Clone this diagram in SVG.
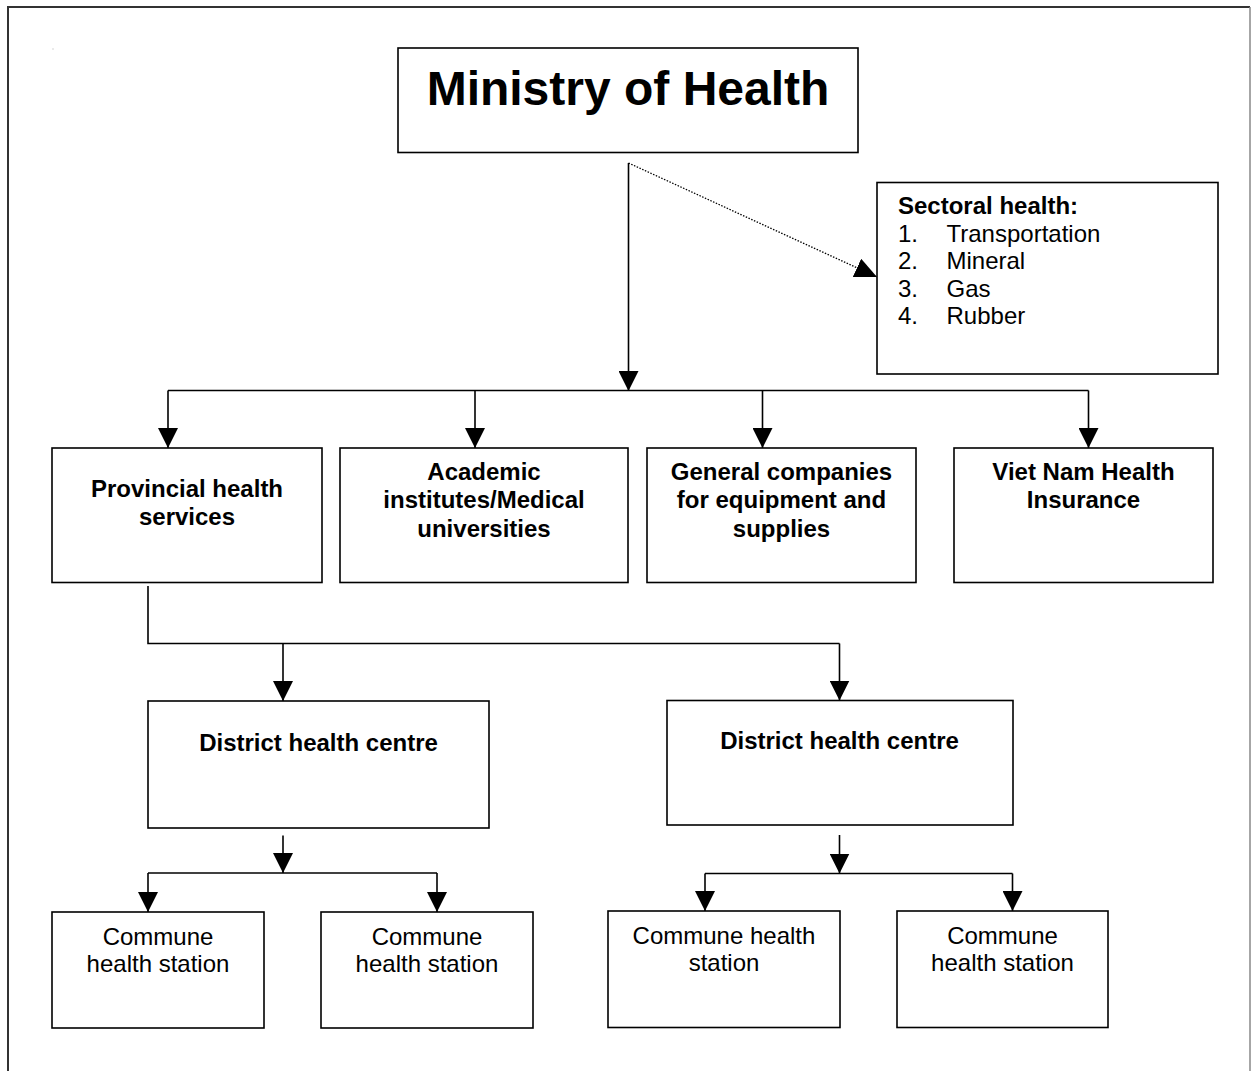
<svg xmlns="http://www.w3.org/2000/svg" width="1253" height="1071" viewBox="0 0 1253 1071">
<defs>
<style>
.box{fill:#fff;stroke:#000;stroke-width:1.6}
.b{font-family:"Liberation Sans",Arial,sans-serif;font-weight:bold;font-size:24px;text-anchor:middle;fill:#000}
.r{font-family:"Liberation Sans",Arial,sans-serif;font-size:24px;text-anchor:middle;fill:#000}
.l{font-family:"Liberation Sans",Arial,sans-serif;font-size:24px;fill:#000}
.conn{stroke:#000;stroke-width:1.6;fill:none}
.arr{marker-end:url(#ah)}
.dot{stroke:#000;stroke-width:1.3;fill:none;stroke-dasharray:1.5 1.5;marker-end:url(#ah2)}
</style>
<marker id="ah" markerUnits="userSpaceOnUse" viewBox="0 0 20 20" refX="20" refY="10" markerWidth="20" markerHeight="20" orient="auto">
<path d="M0,0 L20,10 L0,20 z" fill="#000"/>
</marker>
<marker id="ah2" markerUnits="userSpaceOnUse" viewBox="0 0 22 20" refX="22" refY="10" markerWidth="22" markerHeight="20" orient="auto">
<path d="M0,0 L22,10 L0,20 z" fill="#000"/>
</marker>
</defs>
<rect width="1253" height="1071" fill="#fff"/>
<g id="page-border">
<path d="M8,1075 V7 H1250" fill="none" stroke="#333" stroke-width="2"/>
<path d="M1250,7 V1075" fill="none" stroke="#888" stroke-width="1.5"/>
<rect x="52.5" y="48.5" width="1" height="1" fill="#aaa"/>
</g>
<g id="connectors">
<path class="conn arr" d="M628.5,163 V391"/>
<path class="dot" d="M628.5,163 L877,277"/>
<path class="conn" d="M168,390.5 H1088.5"/>
<path class="conn arr" d="M168,390.5 V448"/>
<path class="conn arr" d="M475,390.5 V448"/>
<path class="conn arr" d="M762.5,390.5 V448"/>
<path class="conn arr" d="M1088.5,390.5 V448"/>
<path class="conn" d="M148,586 V643.5 H839.5"/>
<path class="conn arr" d="M283,643.5 V701"/>
<path class="conn arr" d="M839.5,643.5 V700.5"/>
<path class="conn arr" d="M283,835.5 V873"/>
<path class="conn" d="M148,873 H437"/>
<path class="conn arr" d="M148,873 V912"/>
<path class="conn arr" d="M437,873 V912"/>
<path class="conn arr" d="M839.5,835 V873.5"/>
<path class="conn" d="M705,873.5 H1012.5"/>
<path class="conn arr" d="M705,873.5 V911"/>
<path class="conn arr" d="M1012.5,873.5 V911"/>
</g>
<g id="ministry">
<rect class="box" x="398" y="48" width="460" height="104.5"/>
<text class="b" x="628" y="105" style="font-size:48px">Ministry of Health</text>
</g>
<g id="sectoral">
<rect class="box" x="877" y="182.5" width="341" height="191.5"/>
<text class="b" x="898" y="214" style="text-anchor:start">Sectoral health:</text>
<text class="l" x="898" y="241.5">1.</text><text class="l" x="946.5" y="241.5">Transportation</text>
<text class="l" x="898" y="269">2.</text><text class="l" x="946.5" y="269">Mineral</text>
<text class="l" x="898" y="296.5">3.</text><text class="l" x="946.5" y="296.5">Gas</text>
<text class="l" x="898" y="324">4.</text><text class="l" x="946.5" y="324">Rubber</text>
</g>
<g id="provincial">
<rect class="box" x="52" y="448" width="270" height="134.5"/>
<text class="b" x="187" y="497">Provincial health</text>
<text class="b" x="187" y="525">services</text>
</g>
<g id="academic">
<rect class="box" x="340" y="448" width="288" height="134.5"/>
<text class="b" x="484" y="480">Academic</text>
<text class="b" x="484" y="508">institutes/Medical</text>
<text class="b" x="484" y="537">universities</text>
</g>
<g id="general">
<rect class="box" x="647" y="448" width="269" height="134.5"/>
<text class="b" x="781.5" y="480">General companies</text>
<text class="b" x="781.5" y="508">for equipment and</text>
<text class="b" x="781.5" y="537">supplies</text>
</g>
<g id="vietnam">
<rect class="box" x="954" y="448" width="259" height="134.5"/>
<text class="b" x="1083.5" y="480">Viet Nam Health</text>
<text class="b" x="1083.5" y="508">Insurance</text>
</g>
<g id="district1">
<rect class="box" x="148" y="701" width="341" height="127"/>
<text class="b" x="318.5" y="750.5">District health centre</text>
</g>
<g id="district2">
<rect class="box" x="667" y="700.5" width="346" height="124.5"/>
<text class="b" x="839.5" y="748.5">District health centre</text>
</g>
<g id="commune1">
<rect class="box" x="52" y="912" width="212" height="116"/>
<text class="r" x="158" y="945">Commune</text>
<text class="r" x="158" y="972">health station</text>
</g>
<g id="commune2">
<rect class="box" x="321" y="912" width="212" height="116"/>
<text class="r" x="427" y="945">Commune</text>
<text class="r" x="427" y="972">health station</text>
</g>
<g id="commune3">
<rect class="box" x="608" y="911" width="232" height="116.5"/>
<text class="r" x="724" y="944">Commune health</text>
<text class="r" x="724" y="971">station</text>
</g>
<g id="commune4">
<rect class="box" x="897" y="911" width="211" height="116.5"/>
<text class="r" x="1002.5" y="944">Commune</text>
<text class="r" x="1002.5" y="971">health station</text>
</g>
</svg>
